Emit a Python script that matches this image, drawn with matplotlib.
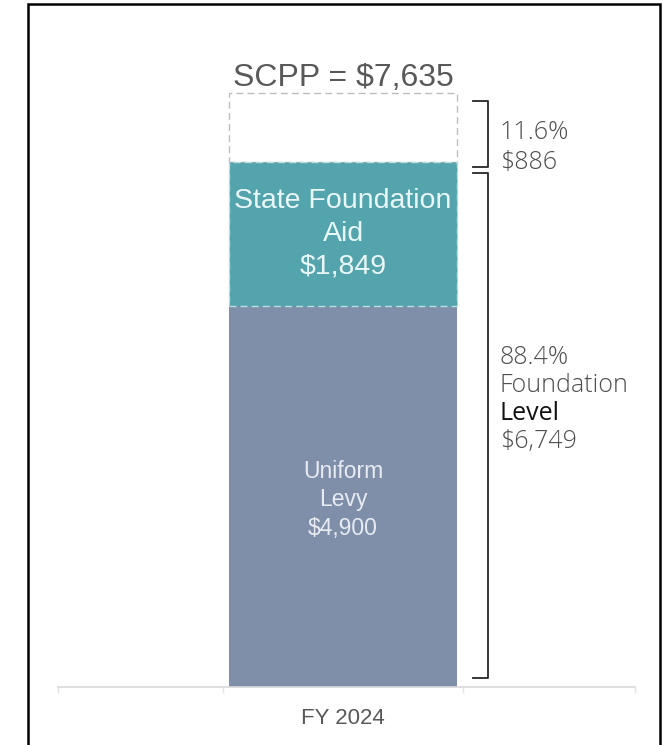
import matplotlib
matplotlib.use("Agg")
import matplotlib.pyplot as plt
from matplotlib.patches import Rectangle

# data
category = ["FY 2024"]
uniform_levy = [4900]
state_aid = [1849]
unfunded = [886]
scpp = 7635
pct_unfunded = 11.6
pct_foundation = 88.4

LEVY_COLOR = "#7f8fa9"
AID_COLOR = "#53a4ac"
GRAY_TXT = "#595959"
ARIAL = ["Liberation Sans", "DejaVu Sans"]

W, H, DPI = 667, 745, 100
fig = plt.figure(figsize=(W / DPI, H / DPI), dpi=DPI)

# outer frame
fig.patches.append(Rectangle((28 / W, -0.01), 632 / W, 1.01 - 4 / H,
                             transform=fig.transFigure, fill=False,
                             edgecolor="black", linewidth=1.8))

base_px = 687
k = 594 / scpp  # pixels per dollar
ax = fig.add_axes([58 / W, (H - base_px) / H, 577 / W, base_px / H])
ax.set_xlim(-0.494, 0.506)
ax.set_ylim(0, base_px / k)
ax.axis("off")

x = range(len(category))
bw = 0.395
foundation = [a + b for a, b in zip(uniform_levy, state_aid)]

ax.bar(x, uniform_levy, width=bw, color=LEVY_COLOR, linewidth=0, zorder=2)
ax.bar(x, state_aid, bottom=uniform_levy, width=bw, color=AID_COLOR,
       edgecolor="#b9dfe2", linestyle=(0, (5, 3)), linewidth=1, zorder=2)
ax.bar(x, unfunded, bottom=foundation, width=bw, color="white",
       edgecolor="#bdbdbd", linestyle=(0, (5, 3)), linewidth=1, zorder=1)

# baseline
ax.plot([-0.494, 0.506], [0, 0], color="#d9d9d9", lw=1.2, clip_on=False, zorder=3)
for tx in [-0.494, -bw / 2 - 0.01, bw / 2 + 0.01, 0.506]:
    ax.plot([tx, tx], [0, -70], color="#e3e3e3", lw=1, clip_on=False)

ax.text(0, -32 / k, category[0], ha="center", va="center", family=ARIAL,
        fontsize=16, color=GRAY_TXT)

# labels inside the bar
i = 0
ax.annotate(f"SCPP = ${scpp:,}", (0, scpp), xytext=(0, 5), textcoords="offset points",
            ha="center", va="baseline", family=ARIAL, fontsize=23, color=GRAY_TXT)
ax.text(0, uniform_levy[i] + state_aid[i] / 2,
        f"State Foundation\nAid\n${state_aid[i]:,}", ha="center", va="center",
        family=ARIAL, fontsize=20.5, color="#eaf7f7", linespacing=1.33, zorder=4)
ax.annotate(f"Uniform\nLevy\n${uniform_levy[i]:,}", (0, uniform_levy[i] / 2),
            xytext=(0, -2.5), textcoords="offset points", ha="center", va="center",
            family=ARIAL, fontsize=16.5, color="#e8ecf2", linespacing=1.3, zorder=4)

# brackets on the right
bx, tick = 0.251, 0.026


def bracket(y0, y1):
    ax.plot([bx - tick, bx, bx, bx - tick], [y1, y1, y0, y0],
            color="#262626", lw=1.3, solid_joinstyle="round", clip_on=False)


top_lo, top_hi = foundation[i] - 60, scpp - 100
bot_lo, bot_hi = 110, foundation[i] - 140
bracket(top_lo, top_hi)
bracket(bot_lo, bot_hi)

tx = 0.272
rfont = dict(family=["Open Sans", "DejaVu Sans"], fontsize=18)


def side_lines(lines, mid, offsets):
    for s, off in zip(lines, offsets):
        ax.annotate(s, (tx, mid), xytext=(0, -off * 0.72), textcoords="offset points",
                    ha="left", va="center",
                    color="#111111" if s == "Level" else "#4d4d4d",
                    fontweight="normal" if s == "Level" else "light", **rfont)


side_lines([f"{pct_unfunded}%", f"${unfunded[i]:,}"], (top_lo + top_hi) / 2, [-1, 29])
side_lines([f"{pct_foundation}%", "Foundation", "Level", f"${foundation[i]:,}"],
           (bot_lo + bot_hi) / 2, [-68, -40, -12, 16])

fig.savefig("out.png", dpi=DPI)
